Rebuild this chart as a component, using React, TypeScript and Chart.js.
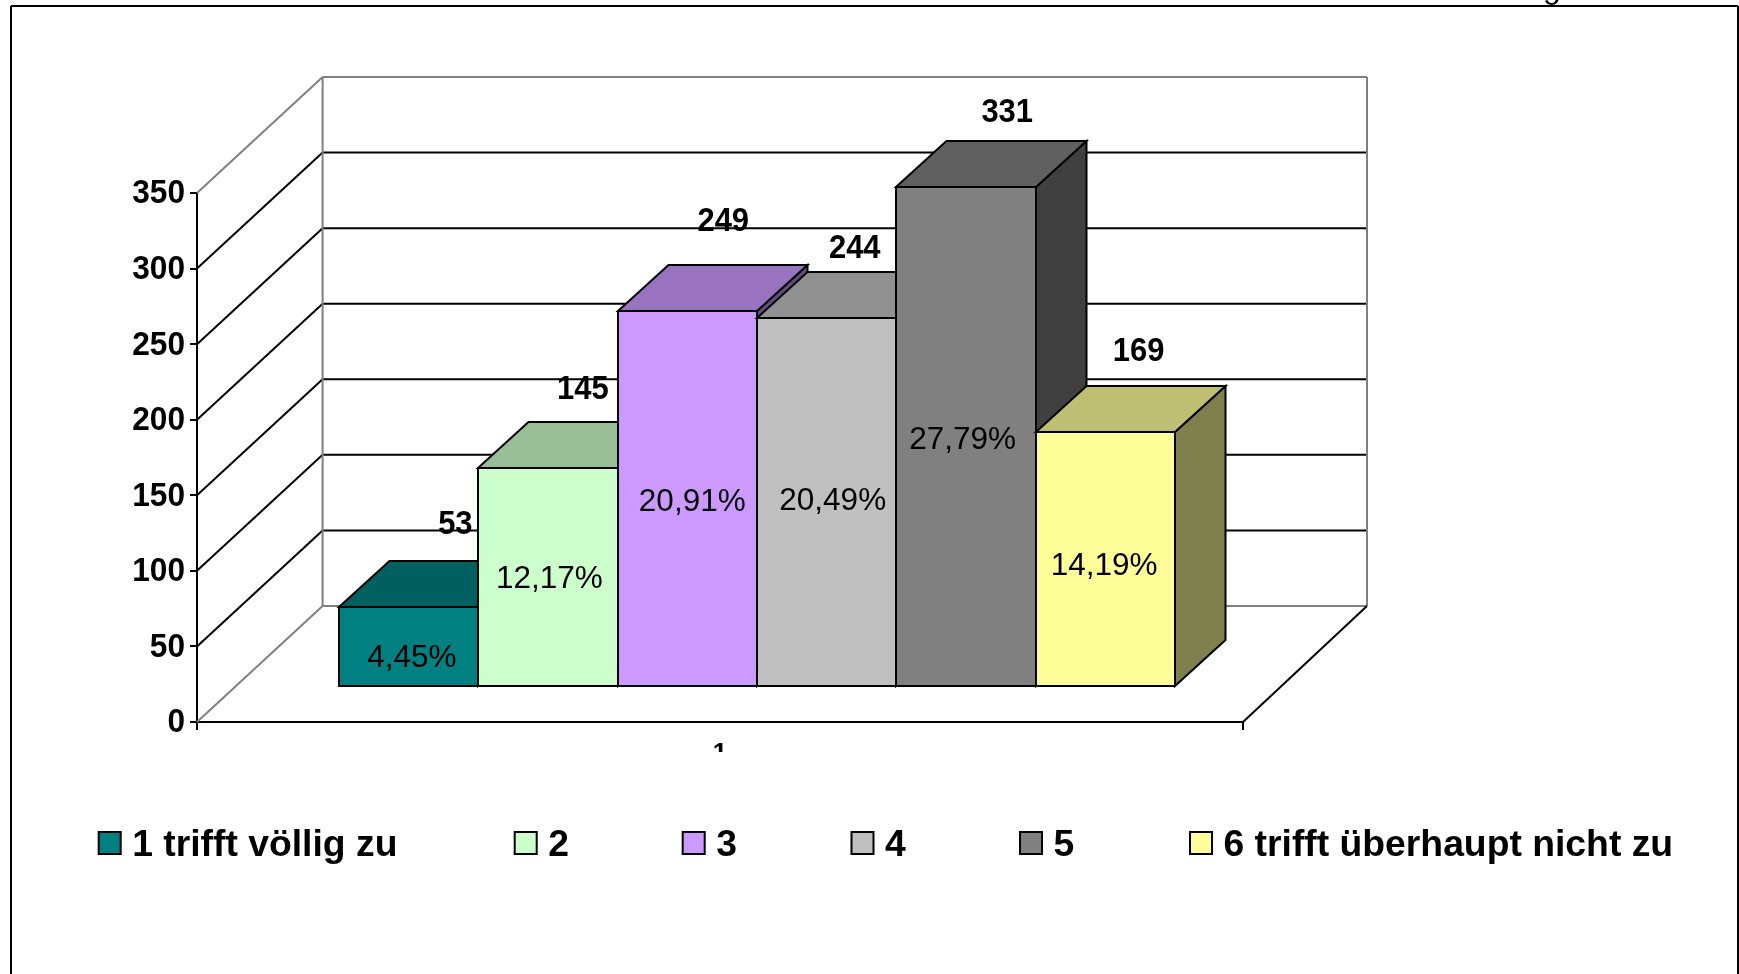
import React, { useEffect, useRef } from "react";
import { Chart, registerables } from "chart.js";

Chart.register(...registerables);

const categories = ["1"];
const seriesNames = ["1 trifft völlig zu", "2", "3", "4", "5", "6 trifft überhaupt nicht zu"];
const seriesValues = [53, 145, 249, 244, 331, 169];
const shareLabels = ["4,45%", "12,17%", "20,91%", "20,49%", "27,79%", "14,19%"];
const seriesColors = ["#008080", "#CCFFCC", "#CC99FF", "#C0C0C0", "#808080", "#FFFF99"];

// Layout of the pseudo-3D box
const FLOOR = { dxLeft: 125.6, dxRight: 124, dy: 116 };
const PLANE = { dx: 37, dy: 35 };
const BAR_DEPTH = { dx: 50.5, dy: 46 };
const VALUE_NUDGE = [[47, -82], [35, -78], [36, -89], [28, -70], [41, -74], [33, -80]];
const SHARE_NUDGE = [[3.5, 12], [1.5, 2], [5, 4], [6, -1], [-3.5, 4], [-1.5, 8]];
const LEGEND_X = [98.7, 514.7, 682.7, 851.5, 1020, 1190];
const LEGEND_Y = 832;
const SANS = '"Liberation Sans", Arial, sans-serif';
const TICK_SQUEEZE = 0.93;
const VALUE_SQUEEZE = 0.91;

function shade(hex: string, f: number) {
  const n = parseInt(hex.slice(1), 16);
  const c = [(n >> 16) & 255, (n >> 8) & 255, n & 255].map((v) => Math.round(v * f));
  return `rgb(${c[0]},${c[1]},${c[2]})`;
}

function poly(ctx: CanvasRenderingContext2D, pts: number[][], fill: string) {
  ctx.beginPath();
  pts.forEach((p, i) => (i ? ctx.lineTo(p[0], p[1]) : ctx.moveTo(p[0], p[1])));
  ctx.closePath();
  ctx.fillStyle = fill;
  ctx.fill();
  ctx.strokeStyle = "#000";
  ctx.lineWidth = 2;
  ctx.lineJoin = "miter";
  ctx.stroke();
}

function seg(ctx: CanvasRenderingContext2D, x1: number, y1: number, x2: number, y2: number, color: string) {
  ctx.beginPath();
  ctx.moveTo(x1, y1);
  ctx.lineTo(x2, y2);
  ctx.strokeStyle = color;
  ctx.lineWidth = 2;
  ctx.stroke();
}

const boxPlugin = {
  id: "box3d",
  afterLayout(chart: any) {
    // Arial in the reference is rendered slightly condensed
    const scale = chart.scales.y;
    if (scale.__squeezed) return;
    scale.__squeezed = true;
    const original = scale.drawLabels.bind(scale);
    scale.drawLabels = (area: any) => {
      const ctx = chart.ctx;
      const anchor = scale.right - 12;
      ctx.save();
      ctx.translate(anchor, 0);
      ctx.scale(TICK_SQUEEZE, 1);
      ctx.translate(-anchor, 0);
      original(area);
      ctx.restore();
    };
  },
  beforeDatasetsDraw(chart: any) {
    const ctx: CanvasRenderingContext2D = chart.ctx;
    const { left, right } = chart.chartArea;
    const yScale = chart.scales.y;
    const backL = left + FLOOR.dxLeft;
    const backR = right + FLOOR.dxRight;
    ctx.save();
    yScale.ticks.forEach((t: any) => {
      const y = yScale.getPixelForValue(t.value);
      const edge = t.value === 0 || t.value === yScale.max;
      const c = edge ? "#808080" : "#000";
      seg(ctx, left, y, backL, y - FLOOR.dy, c);
      seg(ctx, backL, y - FLOOR.dy, backR, y - FLOOR.dy, c);
    });
    const top = yScale.getPixelForValue(yScale.max) - FLOOR.dy;
    const floor = yScale.getPixelForValue(0);
    seg(ctx, backL, top, backL, floor - FLOOR.dy, "#808080");
    seg(ctx, backR, top, backR, floor - FLOOR.dy, "#808080");
    seg(ctx, right, floor, backR, floor - FLOOR.dy, "#000");

    ctx.translate(PLANE.dx, -PLANE.dy);
    chart.data.datasets.forEach((ds: any, i: number) => {
      const meta = chart.getDatasetMeta(i);
      const bar = meta.data[0];
      const x0 = Math.round(bar.x - bar.width / 2);
      const x1 = Math.round(bar.x + bar.width / 2);
      const yT = Math.round(bar.y);
      const yB = Math.round(bar.base);
      const { dx, dy } = BAR_DEPTH;
      poly(ctx, [[x1, yT], [x1 + dx, yT - dy], [x1 + dx, yB - dy], [x1, yB]], shade(seriesColors[i], 0.5));
      poly(ctx, [[x0, yT], [x0 + dx, yT - dy], [x1 + dx, yT - dy], [x1, yT]], shade(seriesColors[i], 0.75));
      meta.controller.draw();
      ctx.strokeStyle = "#000";
      ctx.lineWidth = 2;
      ctx.strokeRect(x0, yT, x1 - x0, yB - yT);
    });
    ctx.restore();
    return false;
  },
  afterDraw(chart: any) {
    const ctx: CanvasRenderingContext2D = chart.ctx;
    ctx.save();
    // Category label is cut off in the reference
    ctx.fillStyle = "#fff";
    ctx.fillRect(300, 752, 900, 60);

    // Page frame and the cut-off heading above it
    ctx.fillStyle = "#000";
    ctx.font = `32px ${SANS}`;
    ctx.textAlign = "center";
    ctx.textBaseline = "alphabetic";
    ctx.fillText("g", 1552, -2);
    seg(ctx, 11, 974, 11, 6, "#000");
    seg(ctx, 11, 6, 1738, 6, "#000");
    seg(ctx, 1738, 6, 1738, 974, "#000");

    // Labels on and above the bars
    ctx.textBaseline = "middle";
    chart.data.datasets.forEach((ds: any, i: number) => {
      const bar = chart.getDatasetMeta(i).data[0];
      const fx = bar.x + PLANE.dx;
      const fy = bar.y - PLANE.dy;
      const mid = (bar.y + bar.base) / 2 - PLANE.dy;
      ctx.fillStyle = "#000";
      ctx.font = `bold 34px ${SANS}`;
      ctx.save();
      ctx.translate(fx + VALUE_NUDGE[i][0], fy + VALUE_NUDGE[i][1]);
      ctx.scale(VALUE_SQUEEZE, 1);
      ctx.fillText(String(ds.data[0]), 0, 0);
      ctx.restore();
      ctx.font = `31.5px ${SANS}`;
      ctx.fillText(shareLabels[i], fx + SHARE_NUDGE[i][0], mid + SHARE_NUDGE[i][1]);
    });

    // Legend
    ctx.textAlign = "left";
    ctx.textBaseline = "alphabetic";
    ctx.font = `bold 37.3px ${SANS}`;
    seriesNames.forEach((name, i) => {
      ctx.fillStyle = seriesColors[i];
      ctx.fillRect(LEGEND_X[i], LEGEND_Y, 22, 22);
      ctx.strokeStyle = "#000";
      ctx.lineWidth = 2;
      ctx.strokeRect(LEGEND_X[i], LEGEND_Y, 22, 22);
      ctx.fillStyle = "#000";
      ctx.fillText(name, LEGEND_X[i] + 33.5, 855.5);
    });
    ctx.restore();
  },
};

export default function App() {
  const ref = useRef<HTMLCanvasElement>(null);
  useEffect(() => {
    const chart = new Chart(ref.current as HTMLCanvasElement, {
      type: "bar",
      data: {
        labels: categories,
        datasets: seriesNames.map((name, i) => ({
          label: name,
          data: [seriesValues[i]],
          backgroundColor: seriesColors[i],
          borderWidth: 0,
          categoryPercentage: 0.8,
          barPercentage: 1,
        })),
      },
      options: {
        responsive: false,
        animation: false,
        devicePixelRatio: 1,
        layout: { padding: { left: 117, right: 496, top: 193, bottom: 212 } },
        plugins: { legend: { display: false }, title: { display: false }, tooltip: { enabled: false } },
        scales: {
          x: {
            afterFit: (s: any) => { s.height = 40; },
            border: { display: true, color: "#000", width: 2 },
            grid: { color: "#000", lineWidth: 2, drawOnChartArea: false, drawTicks: true, tickLength: 8 },
            ticks: { color: "#000", font: { family: SANS, size: 26, weight: "bold" }, padding: 8, maxRotation: 0 },
          },
          y: {
            min: 0,
            max: 350,
            afterFit: (s: any) => { s.width = 80; },
            border: { display: true, color: "#000", width: 2 },
            grid: { color: "#000", lineWidth: 2, drawOnChartArea: false, drawTicks: true, tickLength: 7 },
            ticks: { stepSize: 50, color: "#000", font: { family: SANS, size: 34, weight: "bold" }, padding: 5, labelOffset: 1 },
          },
        },
      },
      plugins: [boxPlugin],
    } as any);
    return () => chart.destroy();
  }, []);
  return (
    <canvas
      ref={ref}
      width={1739}
      height={974}
      style={{ position: "absolute", left: 0, top: 0, width: 1739, height: 974, display: "block" }}
    />
  );
}
